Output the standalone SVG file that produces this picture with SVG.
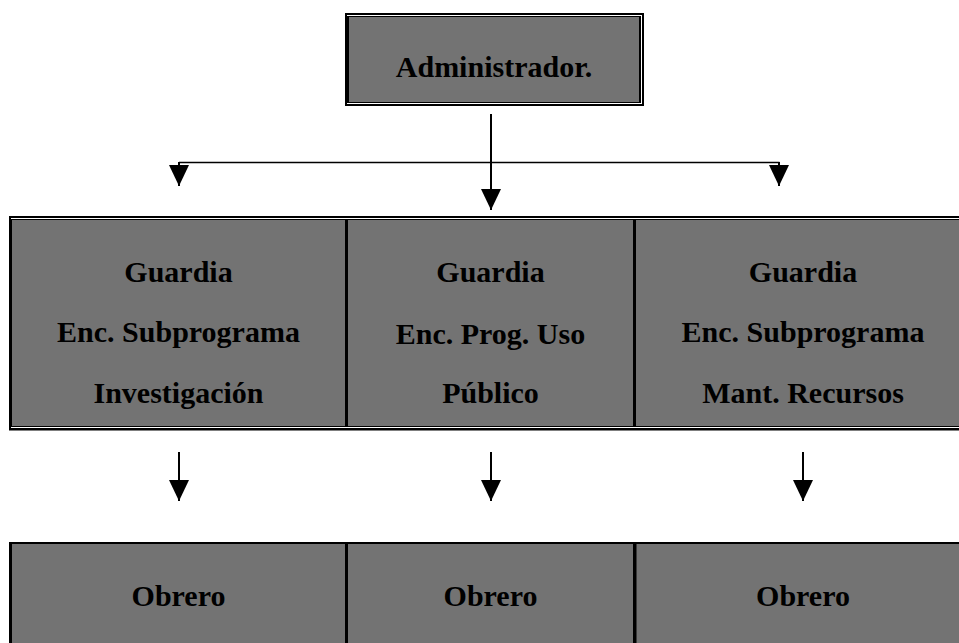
<svg xmlns="http://www.w3.org/2000/svg" width="959" height="643" viewBox="0 0 959 643">
<style>
.cell{fill:#737373}
.blk{fill:#000}
.wht{fill:#fff}
.t{font-family:"Liberation Serif","Times New Roman",serif;font-weight:bold;font-size:30px;fill:#000;text-anchor:middle}
.c{stroke:#000;stroke-width:2;fill:none}
.h{stroke:#000;stroke-width:1.5;fill:none}
</style>
<defs>
<marker id="ah" viewBox="0 0 21 20" markerWidth="21" markerHeight="20" markerUnits="userSpaceOnUse" orient="auto" refX="21" refY="10">
<path d="M0,0 L21,10 L0,20 Z" fill="#000"/>
</marker>
</defs>
<rect width="959" height="643" fill="#fff"/>

<g id="admin">
<rect class="blk" x="345" y="13" width="299" height="93"/>
<rect class="wht" x="347" y="15" width="295" height="89"/>
<rect class="blk" x="345" y="16" width="296" height="87"/>
<rect class="cell" x="349" y="17" width="290" height="85"/>
<text class="t" x="494" y="77">Administrador.</text>
</g>

<g id="row1-frame">
<rect class="blk" x="9" y="216" width="961" height="214.5"/>
<rect class="wht" x="11" y="218" width="959" height="1"/>
<rect class="wht" x="11" y="427" width="959" height="1"/>
</g>

<g id="guardia-investigacion">
<rect class="cell" x="12" y="220" width="333" height="206"/>
<text class="t" x="178.5" y="282">Guardia</text>
<text class="t" x="178.5" y="342">Enc. Subprograma</text>
<text class="t" x="178.5" y="403">Investigación</text>
</g>

<g id="guardia-uso-publico">
<rect class="cell" x="348" y="220" width="285" height="206"/>
<text class="t" x="490.5" y="282">Guardia</text>
<text class="t" x="490.5" y="344">Enc. Prog. Uso</text>
<text class="t" x="490.5" y="403">Público</text>
</g>

<g id="guardia-mant-recursos">
<rect class="cell" x="636" y="220" width="334" height="206"/>
<text class="t" x="803" y="282">Guardia</text>
<text class="t" x="803" y="342">Enc. Subprograma</text>
<text class="t" x="803" y="403">Mant. Recursos</text>
</g>

<g id="row2-frame">
<rect class="blk" x="9" y="542" width="961" height="101"/>
</g>

<g id="obrero-1">
<rect class="cell" x="12" y="544" width="333" height="99"/>
<text class="t" x="178.5" y="606">Obrero</text>
</g>
<g id="obrero-2">
<rect class="cell" x="348" y="544" width="285" height="99"/>
<text class="t" x="490.5" y="606">Obrero</text>
</g>
<g id="obrero-3">
<rect class="cell" x="636.5" y="544" width="334" height="99"/>
<text class="t" x="803" y="606">Obrero</text>
</g>

<g id="connectors">
<path class="h" d="M179,162.5 H779.5"/>
<path class="c" d="M491,114 V210" marker-end="url(#ah)"/>
<path class="c" d="M179,162 V186" marker-end="url(#ah)"/>
<path class="c" d="M779,162 V186" marker-end="url(#ah)"/>
<path class="c" d="M179,452 V501" marker-end="url(#ah)"/>
<path class="c" d="M491,452 V501" marker-end="url(#ah)"/>
<path class="c" d="M803,452 V501" marker-end="url(#ah)"/>
</g>
</svg>
